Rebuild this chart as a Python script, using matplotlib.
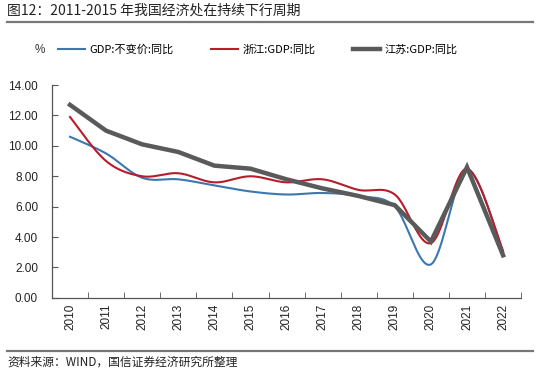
import numpy as np
import matplotlib
matplotlib.use("Agg")
import matplotlib.pyplot as plt
from matplotlib.lines import Line2D

plt.rcParams['font.family'] = ['Noto Sans CJK SC', 'DejaVu Sans']

# data
years = ["2010", "2011", "2012", "2013", "2014", "2015", "2016",
         "2017", "2018", "2019", "2020", "2021", "2022"]
gdp_china = [10.6, 9.5, 7.9, 7.8, 7.4, 7.0, 6.8, 6.9, 6.7, 6.0, 2.2, 8.4, 3.0]
gdp_zhejiang = [11.9, 9.0, 8.0, 8.2, 7.6, 8.0, 7.6, 7.8, 7.1, 6.8, 3.6, 8.5, 3.1]
gdp_jiangsu = [12.7, 11.0, 10.1, 9.6, 8.7, 8.5, 7.8, 7.2, 6.7, 6.1, 3.7, 8.6, 2.8]
yticks = [0, 2, 4, 6, 8, 10, 12, 14]


def smooth(y, n=20):
    # Catmull-Rom curve through the points (like Excel "smoothed line")
    x = np.arange(len(y), dtype=float)
    p = np.column_stack([x, np.asarray(y, dtype=float)])
    p = np.vstack([p[0], p, p[-1]])
    out = []
    t = np.linspace(0, 1, n, endpoint=False)[:, None]
    for i in range(1, len(p) - 2):
        p0, p1, p2, p3 = p[i - 1], p[i], p[i + 1], p[i + 2]
        seg = 0.5 * ((2 * p1) + (-p0 + p2) * t + (2 * p0 - 5 * p1 + 4 * p2 - p3) * t ** 2
                     + (-p0 + 3 * p1 - 3 * p2 + p3) * t ** 3)
        out.append(seg)
    out.append(p[-2][None, :])
    out = np.vstack(out)
    return out[:, 0], out[:, 1]


fig = plt.figure(figsize=(5.5, 3.7), dpi=100)
ax = fig.add_axes([0.0945, 0.195, 0.853, 0.575])

blue = "#3A78AE"
red = "#B71C2B"
gray = "#5A5A5A"

sx, sy = smooth(gdp_china)
ax.plot(sx, sy, color=blue, lw=1.5, zorder=3)
sx, sy = smooth(gdp_zhejiang)
ax.plot(sx, sy, color=red, lw=1.5, zorder=3)
ax.plot(range(len(years)), gdp_jiangsu, color=gray, lw=3.2, zorder=4,
        solid_joinstyle="miter")

num_font = ["Liberation Sans", "DejaVu Sans"]
ax.set_xlim(-0.5, len(years) - 0.5)
ax.set_ylim(0, 14)
ax.set_yticks(yticks)
ax.set_yticklabels([f"{v:.2f}" for v in yticks], fontsize=8.5, color="#222222", family=num_font)
ax.set_xticks(range(len(years)))
ax.set_xticklabels(years, rotation=90, fontsize=8.5, color="#222222", family=num_font)
ax.set_xticks(np.arange(-0.5, len(years)), minor=True)
ax.tick_params(axis="x", which="major", length=0, pad=4)
ax.tick_params(axis="x", which="minor", direction="in", length=4, color="#555555")
ax.tick_params(axis="y", direction="in", length=4, color="#555555", pad=10)
for s in ["top", "right"]:
    ax.spines[s].set_visible(False)
for s in ["left", "bottom"]:
    ax.spines[s].set_color("#555555")
    ax.spines[s].set_linewidth(0.9)

# legend row
fig.text(35 / 550, 1 - 50 / 370, "%", fontsize=8.5, va="center", color="#333333", family=num_font)
handles = [Line2D([], [], color=blue, lw=1.5),
           Line2D([], [], color=red, lw=1.5),
           Line2D([], [], color=gray, lw=3.2)]
labels = ["GDP:不变价:同比", "浙江:GDP:同比", "江苏:GDP:同比"]
for h, lab, x0 in zip(handles, labels, [65, 218, 360]):
    fig.legend([h], [lab], loc="center left", bbox_to_anchor=(x0 / 550 - 0.012, 1 - 50 / 370),
               frameon=False, fontsize=8, handlelength=2.4, handletextpad=0.4,
               borderaxespad=0, borderpad=0)

# title and rules
fig.text(7 / 550, 1 - 11 / 370, "图12：2011-2015 年我国经济处在持续下行周期",
         fontsize=10, va="center", color="#222222", fontweight="medium")
fig.add_artist(Line2D([7 / 550, 533 / 550], [1 - 22 / 370] * 2, color="#777777", lw=1.6))
fig.add_artist(Line2D([7 / 550, 533 / 550], [1 - 351 / 370] * 2, color="#777777", lw=1.6))
fig.text(7 / 550, 1 - 362 / 370, "资料来源：WIND，国信证券经济研究所整理",
         fontsize=8.5, va="center", color="#222222")

fig.savefig("out.png", dpi=100)
